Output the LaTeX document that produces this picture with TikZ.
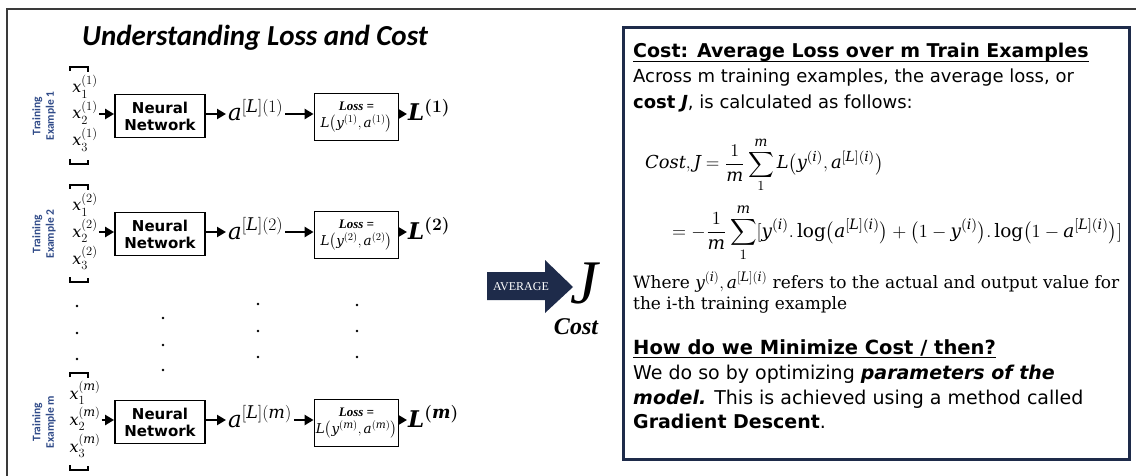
\RequirePackage{fix-cm}
\documentclass[tikz,border=0pt]{standalone}
\usepackage{amsmath}
\usepackage{fontspec}
\setmainfont{DejaVu Serif}
\usetikzlibrary{arrows.meta}
\newfontfamily\vsans{DejaVu Sans}
\newfontfamily\carl{Carlito}
\newfontfamily\lser{Liberation Serif}
\definecolor{navy}{HTML}{1E2B4A}
\definecolor{lblue}{HTML}{2F4A88}
\definecolor{framegray}{HTML}{3A3A3A}
\DeclareMathSizes{23}{23}{17.5}{13}
\DeclareMathSizes{17}{17}{13}{10}
\DeclareMathSizes{16}{16}{12.5}{9.5}
\DeclareMathSizes{13.5}{13.5}{10.5}{8}
\DeclareMathSizes{12}{12}{9.3}{7}
\newcommand\fs[1]{\fontsize{#1}{#1}\selectfont}
\newcommand\mv[1]{\mathit{#1}}
\tikzset{
  nnbox/.style={draw, line width=1.8pt, minimum width=90pt, minimum height=43pt, inner sep=0pt, align=center, font=\vsans\bfseries\fontsize{15}{17}\selectfont},
  lossbox/.style={draw, line width=1.8pt, minimum width=84pt, minimum height=47pt, inner sep=0pt, align=center, font=\fontsize{13.5}{17}\selectfont},
  flow/.style={-{Triangle[length=9pt,width=10pt]}, line width=2.4pt},
  tlab/.style={rotate=90, align=center, text=lblue, font=\carl\bfseries\fontsize{11.5}{13.5}\selectfont, inner sep=0pt},
  xin/.style={anchor=base, inner sep=1pt, font=\fs{16}},
  aout/.style={anchor=base west, inner sep=2pt, font=\fs{23}},
  lout/.style={anchor=base west, inner sep=1pt, font=\fs{23}\boldmath},
  brk/.style={line width=1.5pt},
  ptext/.style={anchor=base west, inner sep=0pt, font=\vsans\fs{18}},
  fml/.style={anchor=base west, inner sep=0pt, font=\fs{12}},
  uline/.style={line width=1.5pt}
}
\begin{document}
\begin{tikzpicture}[x=1pt,y=-1pt]
\useasboundingbox (0,0) rectangle (1136,476);
\fill[white] (0,0) rectangle (1136,476);
\draw[line width=1.6pt, framegray] (7,476) -- (7,9) -- (1136,9);

\node[font=\carl\bfseries\itshape\fs{29}, anchor=base, inner sep=0pt] (title) at (255,46) {Understanding Loss and Cost};

\foreach \r/\cy/\sp in {1/116/1, 2/234/2, m/422/\mv{m}}{
  \coordinate (row\r) at (0,{\cy-2});
  \node[tlab] (lab\r) at (44,\cy) {Training\\Example \r};
  \draw[brk] (70,{\cy-45}) -- (70,{\cy-49}) -- (88,{\cy-49}) -- (88,{\cy-44});
  \draw[brk] (70,{\cy+43}) -- (70,{\cy+48}) -- (88,{\cy+48}) -- (88,{\cy+44});
  \node[xin] (xa\r) at (85,{\cy-23}) {$\mv{x}_1^{(\sp)}$};
  \node[xin] (xb\r) at (85,{\cy+3}) {$\mv{x}_2^{(\sp)}$};
  \node[xin] (xc\r) at (85,{\cy+30}) {$\mv{x}_3^{(\sp)}$};
  \node[nnbox] (nn\r) at (160,\cy) {Neural\\Network};
  \node[aout] (a\r) at (226,{\cy+5}) {$\mv{a}^{[\mv{L}](\sp)}$};
  \node[lossbox] (loss\r) at (356.5,{\cy+1}) {{\lser\bfseries\itshape\fs{13}Loss =}\\$\mv{L}\bigl(\mv{y}^{(\sp)}, \mv{a}^{(\sp)}\bigr)$};
  \node[lout] (L\r) at (407,{\cy+5}) {$\mv{L}^{(\sp)}$};
  \draw[flow] (xb\r.east |- row\r) -- (nn\r.west |- row\r);
  \draw[flow] (nn\r.east |- row\r) -- (a\r.west |- row\r);
  \draw[flow] (a\r.east |- row\r) -- (loss\r.west |- row\r);
  \draw[flow] (loss\r.east |- row\r) -- (L\r.west |- row\r);
}

\foreach \px/\py in {77/306, 77/333, 77/359, 163/318, 163/345, 163/370, 258/304, 258/331, 258/357, 357/305, 357/331, 357/357}
  \fill (\px,\py) circle (1.4pt);

\fill[navy] (487,272) -- (545,272) -- (545,260) -- (573,287) -- (545,313) -- (545,300) -- (487,300) -- cycle;
\node[font=\lser\fs{12}, text=white, inner sep=0pt] (avg) at (521,287) {AVERAGE};
\node[font=\lser\itshape\fs{62}, anchor=base, inner sep=0pt] (J) at (584,303) {J};
\node[font=\lser\bfseries\itshape\fs{24}, anchor=base, inner sep=0pt] (cost) at (576,334) {Cost};

\draw[navy, line width=3pt] (623,28) rectangle (1129,459);

\node[ptext, font=\vsans\bfseries\fs{19}] (hdr) at (633,58) {Cost: Average Loss over m Train Examples};
\draw[uline] ([yshift=-3.5pt]hdr.base west) -- ([yshift=-3.5pt]hdr.base east);
\node[ptext] (l1) at (633,83) {Across m training examples, the average loss, or};
\node[ptext] (l2) at (633,109) {\textbf{cost} \textbf{\textit{J}}, is calculated as follows:};
\node[fml] (f1) at (645,169) {\resizebox{238pt}{!}{$\displaystyle \mv{Cost}, \mv{J} = \frac{1}{\mv{m}}\sum_{1}^{\mv{m}} \mv{L}\bigl(\mv{y}^{(\mv{i})}, \mv{a}^{[\mv{L}](\mv{i})}\bigr)$}};
\node[fml] (f2) at (672,237) {\resizebox{450pt}{!}{$\displaystyle = -\frac{1}{\mv{m}}\sum_{1}^{\mv{m}}[\mv{y}^{(\mv{i})}.\log\bigl(\mv{a}^{[\mv{L}](\mv{i})}\bigr)+\bigl(1-\mv{y}^{(\mv{i})}\bigr).\log\bigl(1-\mv{a}^{[\mv{L}](\mv{i})}\bigr)]$}};
\node[ptext, font=\rmfamily\fs{17}] (w1) at (633,288) {Where $\mv{y}^{(\mv{i})}, \mv{a}^{[\mv{L}](\mv{i})}$ refers to the actual and output value for};
\node[ptext, font=\rmfamily\fs{17}] (w2) at (633,309) {the i-th training example};
\node[ptext, font=\vsans\bfseries\fs{19.5}] (hdr2) at (633,354) {How do we Minimize Cost / then?};
\draw[uline] ([yshift=-3.5pt]hdr2.base west) -- ([yshift=-3.5pt]hdr2.base east);
\node[ptext, font=\vsans\fs{19}] (p1) at (633,379) {We do so by optimizing \textbf{\textit{parameters of the}}};
\node[ptext, font=\vsans\fs{19}] (p2) at (633,404) {\textbf{\textit{model.}} This is achieved using a method called};
\node[ptext, font=\vsans\fs{19}] (p3) at (633,428) {\textbf{Gradient Descent}.};
\end{tikzpicture}
\end{document}
